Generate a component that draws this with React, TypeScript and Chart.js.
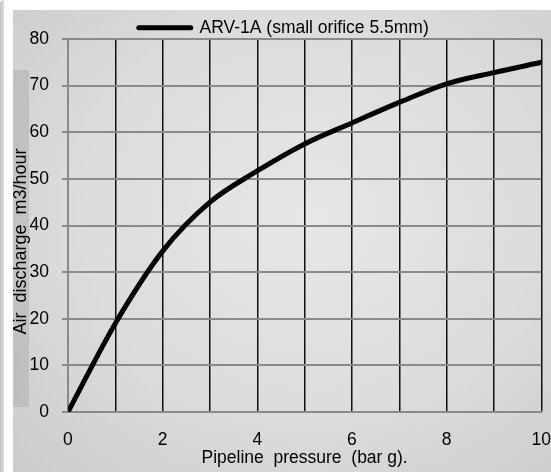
import { useEffect, useRef } from 'react';
import { Chart, registerables } from 'chart.js';

Chart.register(...registerables);

const pressures = [0, 1, 2, 3, 4, 5, 6, 7, 8, 9, 10];
const discharge = [0, 19, 34.5, 45, 51.7, 57.5, 62, 66.4, 70.4, 72.8, 75];
const seriesLabel = 'ARV-1A (small orifice 5.5mm)';
const xTitle = 'Pipeline  pressure  (bar g).';
const yTitle = 'Air  discharge  m3/hour';
const xLabelStep = 2;

const FONT = "'Liberation Sans', Arial, sans-serif";
const FS = 17.5;

const decorPlugin = {
  id: 'decor',
  afterLayout(chart: any) {
    if (chart.legend) {
      chart.legend.top += 7.5;
      chart.legend.bottom += 7.5;
    }
  },
  beforeDraw(chart: any) {
    const { ctx, chartArea } = chart;
    ctx.save();
    ctx.fillStyle = 'rgba(150,150,150,0.3)';
    ctx.fillRect(0, chartArea.top + 31, 16, chartArea.bottom - 5 - (chartArea.top + 31));
    ctx.restore();
  },
  afterDraw(chart: any) {
    const { ctx, chartArea } = chart;
    ctx.save();
    ctx.translate(8.5, (chartArea.top + chartArea.bottom) / 2 + 16);
    ctx.rotate(-Math.PI / 2);
    ctx.font = `18px ${FONT}`;
    ctx.fillStyle = '#000';
    ctx.textAlign = 'center';
    ctx.textBaseline = 'middle';
    ctx.fillText(yTitle, 0, 0);
    ctx.restore();
  },
};

export default function App() {
  const ref = useRef<HTMLCanvasElement>(null);
  useEffect(() => {
    if (!ref.current) return;
    const chart = new Chart(ref.current, {
      type: 'line',
      data: {
        datasets: [
          {
            label: seriesLabel,
            data: pressures.map((p, i) => ({ x: p, y: discharge[i] })),
            borderColor: '#000',
            backgroundColor: '#000',
            borderWidth: 5,
            pointRadius: 0,
            cubicInterpolationMode: 'monotone',
            borderCapStyle: 'round',
          },
        ],
      },
      options: {
        animation: false,
        responsive: false,
        maintainAspectRatio: false,
        layout: { padding: { left: 3.5, right: 0, top: 1.5, bottom: 5 } },
        font: { family: FONT },
        plugins: {
          tooltip: { enabled: false },
          legend: {
            display: true,
            position: 'top',
            labels: {
              color: '#000',
              font: { family: FONT, size: FS, lineHeight: 1 },
              usePointStyle: true,
              pointStyleWidth: 52,
              padding: 0,
              generateLabels: () => [
                {
                  text: seriesLabel,
                  fillStyle: '#000',
                  strokeStyle: '#000',
                  lineWidth: 5,
                  lineCap: 'round',
                  pointStyle: 'line',
                  datasetIndex: 0,
                  hidden: false,
                } as any,
              ],
            },
          },
        },
        scales: {
          x: {
            type: 'linear',
            min: 0,
            max: 10,
            border: { display: true, color: '#8a8a8a', width: 2 },
            grid: {
              drawTicks: true,
              tickLength: 19,
              tickColor: 'rgba(0,0,0,0)',
              color: (c: any) => (c.index === 0 ? '#8a8a8a' : '#111'),
              lineWidth: 1.5,
            },
            ticks: {
              stepSize: 1,
              padding: 0,
              color: '#000',
              font: { family: FONT, size: FS, lineHeight: 1 },
              callback: (v: any) => (Number(v) % xLabelStep === 0 ? String(v) : ''),
              maxRotation: 0,
              autoSkip: false,
            },
            title: {
              display: true,
              text: xTitle,
              color: '#000',
              font: { family: FONT, size: FS, lineHeight: 1 },
              padding: { top: 1, bottom: 0 },
            },
          },
          y: {
            type: 'linear',
            min: 0,
            max: 80,
            border: { display: true, color: '#8a8a8a', width: 2 },
            grid: {
              drawTicks: true,
              tickLength: 6,
              color: '#8a8a8a',
              lineWidth: 2,
            },
            ticks: {
              stepSize: 10,
              padding: 13,
              color: '#000',
              font: { family: FONT, size: FS, lineHeight: 1 },
            },
            title: { display: false },
          },
        },
      },
      plugins: [decorPlugin],
    } as any);
    return () => chart.destroy();
  }, []);

  return (
    <div style={{ position: 'absolute', left: 0, top: 0, width: 551, height: 472, background: '#fff', overflow: 'hidden' }}>
      <div style={{ position: 'absolute', left: 0, top: 0, width: 4, height: 472, background: 'linear-gradient(to right, #c4c4c4, #dedede)', borderTopLeftRadius: 4 }} />
      <div
        style={{
          position: 'absolute',
          left: 13,
          top: 10,
          width: 538,
          height: 462,
          background: 'radial-gradient(ellipse at 55% 45%, #e7e7e7 0%, #dcdcdc 55%, #cbcbcb 100%)',
        }}
      >
        <canvas ref={ref} width={538} height={462} style={{ display: 'block' }} />
      </div>
    </div>
  );
}
